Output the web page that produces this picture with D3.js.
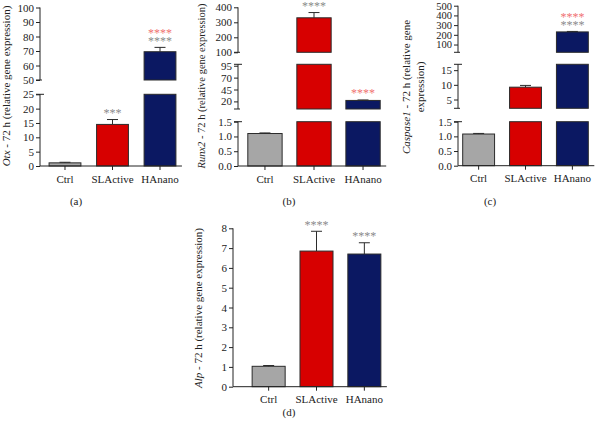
<!DOCTYPE html>
<html>
<head>
<meta charset="utf-8">
<script src="https://cdn.jsdelivr.net/npm/d3@7"></script>
<style>
    body { margin: 0; background: #fff; }
    svg, svg text { font-family: "Liberation Serif", "Times New Roman", serif; }
</style>
</head>
<body>
<div id="chart"></div>
<script>
// groups and bar colours
const groups = ["Ctrl", "SLActive", "HAnano"];
const barColors = ["#a6a6a6", "#d70000", "#0b1862"];

// (a) Otx
const otxMean = [1.1, 14.5, 69.5];
const otxErr = [0.2, 1.7, 3.0];
const otxStars = ["", "***", "****"];
const otxStarsRed = ["", "", "****"];
const otxBreaks = [[0, 25], [50, 100]];
const otxTicks = [[0, 5, 10, 15, 20, 25], [50, 60, 70, 80, 90, 100]];

// (b) Runx2
const runxMean = [1.1, 330, 22];
const runxErr = [0.02, 35, 1];
const runxStars = ["", "****", ""];
const runxStarsRed = ["", "", "****"];
const runxBreaks = [[0, 1.5], [4, 98], [100, 400]];
const runxTicks = [[0, 0.5, 1.0, 1.5], [20, 45, 70, 95], [100, 200, 300, 400]];

// (c) Caspase1
const caspMean = [1.08, 9.2, 230];
const caspErr = [0.02, 0.6, 5];
const caspStars = ["", "", "****"];
const caspStarsRed = ["", "", "****"];
const caspBreaks = [[0, 1.5], [2, 17], [20, 500]];
const caspTicks = [[0, 0.5, 1.0, 1.5], [5, 10, 15], [100, 200, 300, 400, 500]];

// (d) Alp
const alpMean = [1.03, 6.85, 6.7];
const alpErr = [0.04, 1.0, 0.57];
const alpStars = ["", "****", "****"];
const alpStarsRed = ["", "", ""];
const alpBreaks = [[0, 8]];
const alpTicks = [[0, 1, 2, 3, 4, 5, 6, 7, 8]];

const width = 601, height = 427;
const font = "Liberation Serif, Times New Roman, serif";
const svg = d3.select("#chart").append("svg")
    .attr("width", width).attr("height", height)
    .attr("viewBox", [0, 0, width, height]);

function panel(p) {
    const g = svg.append("g");
    const x = d3.scaleBand().domain(groups).range(p.xRange)
        .paddingInner(p.pi).paddingOuter(p.po);
    const ys = p.breaks.map((b, i) => d3.scaleLinear().domain(b).range(p.px[i]));

    ys.forEach((y, i) => {
        const [lo, hi] = y.domain();
        groups.forEach((c, j) => {
            const v = p.mean[j];
            if (v <= lo) return;
            const top = Math.min(v, hi);
            g.append("rect")
                .attr("x", x(c)).attr("width", x.bandwidth())
                .attr("y", y(top)).attr("height", y(lo) - y(top))
                .attr("fill", barColors[j])
                .attr("stroke", "#2b2b2b").attr("stroke-width", 1);
        });

        const fmt = p.fmt[i] ? d3.format(p.fmt[i]) : d3.format("d");
        const ax = g.append("g")
            .attr("transform", `translate(${p.axisX},0)`)
            .call(d3.axisLeft(y).tickValues(p.ticks[i]).tickSize(4).tickPadding(2).tickFormat(fmt))
            .attr("font-family", font);
        ax.select(".domain").remove();
        ax.selectAll("text").attr("font-size", (p.tickSize && p.tickSize[i]) || 11).attr("fill", "#222");
        ax.selectAll(".tick line").attr("stroke", "#222");
        ax.append("line")
            .attr("y1", y(lo)).attr("y2", y(hi))
            .attr("stroke", "#222");
        // caps at the axis breaks
        if (i < ys.length - 1) {
            ax.append("line").attr("x1", -4).attr("x2", 4)
                .attr("y1", y(hi)).attr("y2", y(hi)).attr("stroke", "#222");
        }
        if (i > 0) {
            ax.append("line").attr("x1", -4).attr("x2", 2)
                .attr("y1", y(lo)).attr("y2", y(lo)).attr("stroke", "#222");
        }
    });

    // error bars and asterisks
    groups.forEach((c, j) => {
        const v = p.mean[j], t = v + p.err[j];
        const k = p.breaks.findIndex(b => t > b[0] && t <= b[1] * 1.05);
        const y = ys[k];
        const cx = x(c) + x.bandwidth() / 2;
        const yb = v > y.domain()[0] ? y(Math.min(v, y.domain()[1])) : y(y.domain()[0]);
        g.append("line").attr("x1", cx).attr("x2", cx)
            .attr("y1", yb).attr("y2", y(t)).attr("stroke", "#2b2b2b");
        g.append("line").attr("x1", cx - 5.5).attr("x2", cx + 5.5)
            .attr("y1", y(t)).attr("y2", y(t)).attr("stroke", "#2b2b2b");

        let sy = y(t) - 2.5;
        if (p.stars[j]) {
            g.append("text").attr("x", cx).attr("y", sy)
                .attr("text-anchor", "middle").attr("font-size", 12)
                .attr("fill", "#8a8a8a").text(p.stars[j]);
            sy -= 7.5;
        }
        if (p.starsRed[j]) {
            g.append("text").attr("x", cx).attr("y", sy)
                .attr("text-anchor", "middle").attr("font-size", 12)
                .attr("fill", "#f07070").text(p.starsRed[j]);
        }
    });

    // x axis
    const xa = g.append("g")
        .attr("transform", `translate(0,${p.baseY})`)
        .call(d3.axisBottom(x).tickSize(4).tickPadding(5))
        .attr("font-family", font);
    xa.select(".domain").remove();
    xa.selectAll("text").attr("font-size", 11).attr("fill", "#222");
    xa.selectAll(".tick line").attr("stroke", "#222");
    xa.append("line").attr("x1", p.axisX)
        .attr("x2", x(groups[2]) + x.bandwidth() + 6)
        .attr("stroke", "#222");

    // y label
    const lab = g.append("text")
        .attr("transform", `translate(${p.labelX},${p.labelY}) rotate(-90)`)
        .attr("text-anchor", "middle").attr("font-size", p.labelSize || 11).attr("fill", "#222");
    lab.append("tspan").attr("font-style", "italic").text(p.gene);
    lab.append("tspan").text(p.rest);
    if (p.rest2) {
        g.append("text")
            .attr("transform", `translate(${p.labelX + 14},${p.labelY}) rotate(-90)`)
            .attr("text-anchor", "middle").attr("font-size", 11).attr("fill", "#222")
            .text(p.rest2);
    }

    g.append("text").attr("x", p.letterX).attr("y", p.letterY)
        .attr("text-anchor", "middle").attr("font-size", 11).attr("fill", "#222")
        .text(p.letter);
}

panel({
    mean: otxMean, err: otxErr, stars: otxStars, starsRed: otxStarsRed,
    breaks: otxBreaks, ticks: otxTicks, fmt: [null, null],
    px: [[166, 94.3], [80, 7.5]],
    axisX: 40, xRange: [41, 184], pi: 0.33, po: 0.17, baseY: 166,
    gene: "Otx", rest: " - 72 h (relative gene expression)", labelX: 10, labelY: 86,
    letter: "(a)", letterX: 76, letterY: 205
});

panel({
    mean: runxMean, err: runxErr, stars: runxStars, starsRed: runxStarsRed,
    breaks: runxBreaks, ticks: runxTicks, fmt: [".1f", null, null],
    px: [[166, 121.7], [109, 64.3], [52.3, 7.3]],
    axisX: 238, xRange: [238, 390], pi: 0.3, po: 0.2, baseY: 166,
    gene: "Runx2", rest: " - 72 h (relative gene expression)", labelX: 205, labelY: 86,
    labelSize: 10.5,
    letter: "(b)", letterX: 289, letterY: 205
});

panel({
    mean: caspMean, err: caspErr, stars: caspStars, starsRed: caspStarsRed,
    breaks: caspBreaks, ticks: caspTicks, fmt: [".1f", null, null],
    tickSize: [11, 11, 10.5],
    px: [[165.7, 121.7], [108.3, 64.3], [52.3, 5.7]],
    axisX: 458, xRange: [458, 593], pi: 0.32, po: 0.1, baseY: 165.7,
    gene: "Caspase1", rest: " - 72 h (relative gene", rest2: "expression)",
    labelX: 410, labelY: 87,
    letter: "(c)", letterX: 490, letterY: 205
});

panel({
    mean: alpMean, err: alpErr, stars: alpStars, starsRed: alpStarsRed,
    breaks: alpBreaks, ticks: alpTicks, fmt: [null],
    px: [[386.7, 228.3]],
    axisX: 233, xRange: [233, 400], pi: 0.31, po: 0.4, baseY: 386.7,
    gene: "Alp", rest: " - 72 h (relative gene expression)", labelX: 202, labelY: 308,
    letter: "(d)", letterX: 289, letterY: 415.5
});
</script>
</body>
</html>
